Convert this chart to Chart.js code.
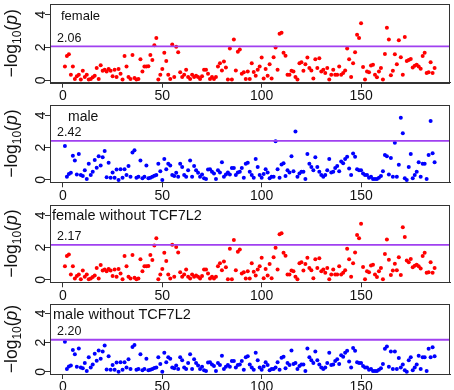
<!DOCTYPE html>
<html><head><meta charset="utf-8">
<script src="https://cdn.jsdelivr.net/npm/chart.js@4"></script>
<style>
html,body{margin:0;padding:0;background:#fff;}
#wrap{position:relative;width:454px;height:390px;overflow:hidden;background:#fff;}
canvas{position:absolute;left:0;}
</style></head><body><div id="wrap"></div>
<script>
const xTicks = [0, 50, 100, 150];
const yTicks = [0, 2, 4];
const panelLabels = ['female', 'male', 'female without TCF7L2', 'male without TCF7L2'];
const thresholds = [2.06, 2.42, 2.17, 2.20];

const female = [
0.84,1.48,1.58,0.34,0.84,0.08,0.24,0.34,0.04,0.58,
0.20,0.34,0.04,0.08,0.18,0.28,0.74,0.08,0.92,0.58,
0.64,0.54,0.68,0.58,0.24,0.64,0.20,0.68,0.40,0.04,
1.48,0.84,0.20,0.08,1.54,0.14,0.04,0.08,1.28,0.54,
0.84,0.84,0.86,1.54,1.24,2.14,2.58,0.04,0.34,0.68,
1.68,1.18,0.34,0.08,2.18,0.20,2.04,1.70,0.48,0.20,
0.34,0.64,0.20,0.08,0.34,0.20,0.28,0.20,0.08,0.24,
0.64,0.64,0.40,0.08,0.20,0.08,0.20,0.84,1.04,0.60,
1.14,0.78,0.04,1.94,0.04,2.48,0.60,1.74,1.88,0.40,
0.48,0.08,0.54,0.08,1.04,0.50,0.28,0.64,0.84,1.38,0.10,
0.68,0.28,0.98,0.10,1.40,2.00,0.64,2.84,2.90,1.68,
1.50,0.34,0.34,0.58,0.54,0.20,0.04,1.04,1.10,0.58,
0.98,1.38,0.74,0.60,0.10,1.28,0.74,1.34,0.54,0.64,0.44,
0.74,0.04,0.34,0.64,0.34,0.34,0.84,0.34,0.44,0.60,
1.94,1.28,0.20,1.04,1.70,2.78,2.58,3.48,0.80,0.04,
0.54,0.48,0.90,0.94,0.34,0.18,0.54,0.74,0.04,1.60,
3.20,2.48,0.30,0.58,1.58,0.98,2.44,1.40,0.34,2.64,
1.18,1.24,1.30,0.78,0.88,0.94,0.84,0.70,1.48,1.68,
0.44,0.48,1.10,0.44,0.74
];

const male = [
2.10,0.20,0.36,0.44,1.50,1.20,0.34,1.60,0.30,0.24,
0.60,0.06,1.00,0.30,0.50,1.24,0.76,1.46,0.90,1.40,
1.80,0.16,1.06,0.14,0.46,0.14,0.64,0.00,0.66,0.14,
0.66,0.30,0.86,0.20,1.70,1.84,0.14,0.20,1.20,0.10,
0.20,0.90,0.10,0.14,0.20,0.26,0.30,1.00,0.54,0.00,
1.30,0.66,1.00,0.90,0.30,0.24,0.44,0.20,1.00,0.80,
0.30,0.20,0.60,1.20,0.20,0.86,0.60,0.44,0.20,0.34,
0.10,0.06,0.64,0.66,0.50,0.40,0.06,0.60,0.46,1.10,
0.20,0.34,0.46,0.34,0.74,0.74,0.30,0.46,0.50,0.74,0.14,
1.00,1.06,0.50,0.30,0.14,1.30,0.80,0.30,0.14,0.36,0.66,
0.46,0.10,0.20,0.20,2.40,0.66,0.14,0.96,1.04,0.24,0.60,
0.46,1.46,0.54,3.00,0.20,0.40,0.50,0.50,0.06,1.60,
1.00,0.80,0.60,1.40,0.80,0.50,0.30,0.20,0.30,0.60,
1.30,0.46,0.50,0.74,0.86,0.54,1.14,1.04,1.30,1.44,
0.70,0.30,1.64,1.44,0.66,0.60,0.60,0.40,0.30,0.30,
0.14,0.20,0.06,0.06,0.06,0.14,0.24,0.54,1.54,1.46,
0.34,1.36,0.20,2.30,0.20,0.94,3.86,2.90,0.10,0.00,
0.80,1.60,0.10,0.30,0.50,1.10,0.20,1.00,1.00,0.06,
1.54,3.66,1.66,1.10
];

const femaleWithoutTCF7L2 = [
0.84,1.48,1.58,0.34,0.84,0.08,0.24,0.34,0.04,0.58,
0.20,0.34,0.04,0.08,0.18,0.28,0.74,0.08,0.92,0.58,
0.64,0.54,0.68,0.58,0.24,0.64,0.20,0.68,0.40,0.04,
1.48,0.84,0.20,0.08,1.54,0.14,0.04,0.08,1.28,0.54,
0.84,0.84,0.86,1.54,1.24,2.14,2.58,0.04,0.34,0.68,
1.68,1.18,0.34,0.08,2.18,0.20,2.04,1.70,0.48,0.20,
0.34,0.64,0.20,0.08,0.34,0.20,0.28,0.20,0.08,0.24,
0.64,0.64,0.40,0.08,0.20,0.08,0.20,0.84,1.04,0.60,
1.14,0.78,0.04,1.94,0.04,2.48,0.60,1.74,1.88,0.40,
0.48,0.08,0.54,0.08,1.04,0.50,0.28,0.64,0.84,1.38,0.10,
0.68,0.28,0.98,0.10,1.40,2.00,0.64,2.84,2.90,1.68,
1.50,0.34,0.34,0.58,0.54,0.20,0.04,1.04,1.10,0.58,
0.98,1.38,0.74,0.60,0.10,1.28,0.74,1.34,0.54,0.64,0.44,
0.74,0.04,0.34,0.64,0.34,0.34,0.84,0.34,0.44,0.60,
1.94,1.28,0.20,1.04,1.70,2.78,2.58,3.48,0.80,0.04,
0.54,0.48,0.90,0.94,0.34,0.18,0.54,0.74,0.04,1.60,
2.50,1.25,0.30,0.58,1.00,0.60,1.40,0.30,3.27,2.67,
1.20,1.10,1.30,0.78,0.88,0.94,0.84,0.70,1.48,1.68,
0.44,0.48,1.10,0.44,0.74
];

const maleWithoutTCF7L2 = [
2.07,0.20,0.36,0.44,1.50,1.20,0.34,1.60,0.30,0.24,
0.60,0.06,1.00,0.30,0.50,1.24,0.76,1.46,0.90,1.40,
1.80,0.16,1.06,0.14,0.46,0.14,0.64,0.00,0.66,0.14,
0.66,0.30,0.86,0.20,1.70,1.84,0.14,0.20,1.20,0.10,
0.20,0.90,0.10,0.14,0.20,0.26,0.30,1.00,0.54,0.00,
1.30,0.66,1.00,0.90,0.30,0.24,0.44,0.20,1.00,0.80,
0.30,0.20,0.60,1.20,0.20,0.86,0.60,0.44,0.20,0.34,
0.10,0.06,0.64,0.66,0.50,0.40,0.06,0.60,0.46,1.10,
0.20,0.34,0.46,0.34,0.74,0.74,0.30,0.46,0.50,0.74,0.14,
1.00,1.06,0.50,0.30,0.14,1.30,0.80,0.30,0.14,0.36,0.66,
0.46,0.10,0.20,0.20,0.30,0.66,0.14,0.96,1.04,0.24,0.60,
0.46,1.46,0.54,0.60,0.20,0.40,0.50,0.50,0.06,1.60,
1.00,0.80,0.60,1.40,0.80,0.50,0.30,0.20,0.30,0.60,
1.30,0.46,0.50,0.74,0.86,0.54,1.14,1.04,1.30,1.44,
0.70,0.30,1.64,1.44,0.66,0.60,0.60,0.40,0.30,0.30,
0.14,0.20,0.06,0.06,0.06,0.14,0.24,0.54,1.58,1.73,
0.34,1.40,0.20,1.40,0.20,0.94,0.30,0.50,0.10,0.00,
0.80,1.00,0.10,0.30,0.50,1.10,0.20,1.00,1.00,0.06,
1.58,1.00,1.69,1.07
];

const seriesValues = [female, male, femaleWithoutTCF7L2, maleWithoutTCF7L2];
const seriesColors = ['#ff0000', '#0000ff', '#ff0000', '#0000ff'];

const FONT = '"Liberation Sans", Arial, Helvetica, sans-serif';
const X_MIN = -6.5, X_MAX = 194.75;
const Y_MIN = -0.15, Y_MAX = 4.65;

// layout of each panel (canvas top, canvas height, plot top padding, x-axis height, label font size)
const layout = [
  {top: 0,   height: 101, padTop: 3.3, xH: 18.3, labelSize: 13, labelDx: 11, labelDy: 16},
  {top: 101, height: 100, padTop: 1.7, xH: 18.7, labelSize: 14, labelDx: 18, labelDy: 16},
  {top: 201, height: 99,  padTop: 1.7, xH: 17.7, labelSize: 14.5, labelDx: 2, labelDy: 15},
  {top: 300, height: 90,  padTop: 1.0, xH: 16.0, labelSize: 14.5, labelDx: 3, labelDy: 15}
];

const wrap = document.getElementById('wrap');

function drawYTitle(ctx, cx, cy) {
  const big = '17.5px ' + FONT, small = '12px ' + FONT, ital = 'italic 17.5px ' + FONT;
  const parts = [
    {t: '\u2212log', f: big, dy: 0},
    {t: '10', f: small, dy: 4},
    {t: '(', f: big, dy: 0},
    {t: 'p', f: ital, dy: 0},
    {t: ')', f: big, dy: 0}
  ];
  let total = 0;
  parts.forEach(p => { ctx.font = p.f; p.w = ctx.measureText(p.t).width; total += p.w; });
  ctx.save();
  ctx.translate(cx, cy);
  ctx.rotate(-Math.PI / 2);
  ctx.fillStyle = '#111';
  ctx.textBaseline = 'alphabetic';
  ctx.textAlign = 'left';
  let x = -total / 2;
  parts.forEach(p => { ctx.font = p.f; ctx.fillText(p.t, x, p.dy); x += p.w; });
  ctx.restore();
}

seriesValues.forEach((values, k) => {
  const L = layout[k];
  const canvas = document.createElement('canvas');
  canvas.width = 454; canvas.height = L.height;
  canvas.style.top = L.top + 'px';
  canvas.style.width = '454px'; canvas.style.height = L.height + 'px';
  wrap.appendChild(canvas);
  const thr = thresholds[k];
  const points = values.map((v, i) => ({x: i + 1, y: v}));

  const decor = {
    id: 'decor' + k,
    afterDraw(chart) {
      const {ctx, chartArea: a, scales} = chart;
      ctx.save();
      ctx.strokeStyle = '#333';
      ctx.lineWidth = 1;
      ctx.strokeRect(Math.round(a.left) + 0.5, Math.round(a.top) + 0.5,
                     Math.round(a.right - a.left) - 1, Math.round(a.bottom - a.top));
      ctx.fillStyle = '#111';
      ctx.font = '14px ' + FONT;
      yTicks.forEach(v => {
        const py = scales.y.getPixelForValue(v);
        ctx.save();
        ctx.translate(a.left - 5, py);
        ctx.rotate(-Math.PI / 2);
        ctx.textAlign = 'center';
        ctx.textBaseline = 'alphabetic';
        ctx.fillText(String(v), 0, 0);
        ctx.restore();
      });
      ctx.font = L.labelSize + 'px ' + FONT;
      ctx.textAlign = 'left';
      ctx.textBaseline = 'alphabetic';
      ctx.fillText(panelLabels[k], a.left + L.labelDx, a.top + L.labelDy);
      ctx.font = '12.5px ' + FONT;
      ctx.fillText(thr.toFixed(2), a.left + 7, scales.y.getPixelForValue(thr) - 4.5);
      ctx.restore();
      drawYTitle(ctx, 17, (a.top + a.bottom) / 2);
    }
  };

  new Chart(canvas, {
    type: 'scatter',
    data: {datasets: [
      {type: 'line', data: [{x: X_MIN, y: thr}, {x: X_MAX, y: thr}], borderColor: '#a040f0',
       borderWidth: 1.8, pointRadius: 0, order: 0},
      {data: points, backgroundColor: seriesColors[k], borderWidth: 0, pointRadius: 2, order: 1}
    ]},
    options: {
      responsive: false, animation: false, devicePixelRatio: 1,
      layout: {padding: {top: L.padTop, right: 1.5, left: 0, bottom: 0}},
      plugins: {legend: {display: false}, tooltip: {enabled: false}},
      scales: {
        x: {type: 'linear', min: X_MIN, max: X_MAX,
            afterBuildTicks: s => { s.ticks = xTicks.map(v => ({value: v})); },
            afterFit: s => { s.height = L.xH; },
            grid: {drawOnChartArea: false, drawTicks: true, tickLength: 5, color: '#333', lineWidth: 1},
            border: {display: true, color: '#333'},
            ticks: {color: '#111', font: {family: FONT, size: 14}, padding: 0, maxRotation: 0,
                    autoSkip: false, callback: v => String(v)}},
        y: {type: 'linear', min: Y_MIN, max: Y_MAX,
            afterBuildTicks: s => { s.ticks = yTicks.map(v => ({value: v})); },
            afterFit: s => { s.width = 50; },
            grid: {drawOnChartArea: false, drawTicks: true, tickLength: 5, color: '#333', lineWidth: 1},
            border: {display: true, color: '#333'},
            ticks: {display: false}}
      }
    },
    plugins: [decor]
  });
});
</script></body></html>
